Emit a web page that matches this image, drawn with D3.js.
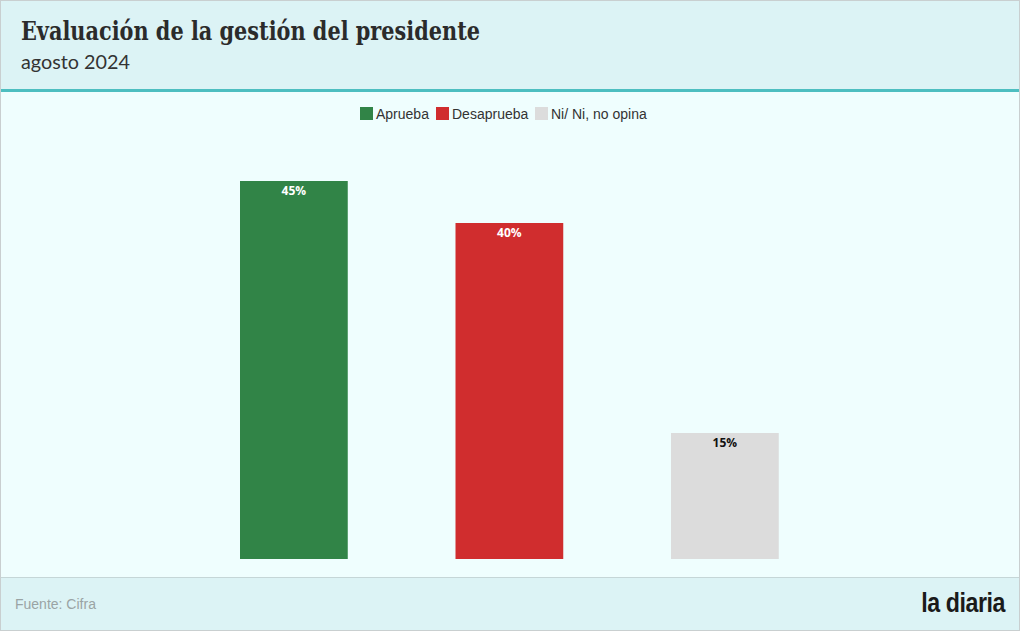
<!DOCTYPE html>
<html><head><meta charset="utf-8">
<script src="https://cdn.jsdelivr.net/npm/d3@7"></script>
<style>
html,body{margin:0;padding:0;background:#fff;}
svg{display:block;}
</style></head>
<body>
<script>
const categories = ["Aprueba", "Desaprueba", "Ni/ Ni, no opina"];
const values = [45, 40, 15];
const colors = ["#318447", "#d02d2e", "#dcdcdc"];
const labelColors = ["#ffffff", "#ffffff", "#111111"];
const title = "Evaluación de la gestión del presidente";
const subtitle = "agosto 2024";
const source = "Fuente: Cifra";

const W = 1020, H = 631;
const svg = d3.select("body").append("svg").attr("width", W).attr("height", H);

// backgrounds
svg.append("rect").attr("x",0).attr("y",0).attr("width",W).attr("height",H).attr("fill","#effefe");
svg.append("rect").attr("x",0).attr("y",0).attr("width",W).attr("height",89).attr("fill","#dcf3f5");
svg.append("rect").attr("x",0).attr("y",89).attr("width",W).attr("height",3).attr("fill","#4dbec0");
svg.append("rect").attr("x",0).attr("y",577).attr("width",W).attr("height",H-577).attr("fill","#dcf3f5");
svg.append("line").attr("x1",0).attr("x2",W).attr("y1",577.5).attr("y2",577.5).attr("stroke","#c5d6d7");
svg.append("rect").attr("x",0.5).attr("y",0.5).attr("width",W-1).attr("height",H-1).attr("fill","none").attr("stroke","#c9cfd0");

// title
svg.append("text").attr("x",21).attr("y",40).text(title)
  .attr("font-family","'DejaVu Serif', serif").attr("font-weight","bold").attr("font-size",26).attr("fill","#2b2b2b")
  .attr("textLength", 459).attr("lengthAdjust","spacingAndGlyphs");

svg.append("text").attr("x",21).attr("y",69).text(subtitle)
  .attr("font-family","Lato, 'Open Sans', sans-serif").attr("font-size",20).attr("fill","#333")
  .attr("textLength", 109).attr("lengthAdjust","spacingAndGlyphs");

// legend
const legend = svg.append("g");
const legX = [360, 436, 535];
categories.forEach((c,i)=>{
  legend.append("rect").attr("x",legX[i]).attr("y",107).attr("width",13).attr("height",13).attr("fill",colors[i]);
  legend.append("text").attr("x",legX[i]+16).attr("y",119).text(c)
    .attr("font-family","'Liberation Sans', Arial, sans-serif").attr("font-size",14).attr("fill","#333");
});

// scales
const x = d3.scaleBand().domain(categories).range([132.25, 886.5]).paddingInner(0.5).paddingOuter(0.5);
const y = d3.scaleLinear().domain([0, 50]).range([559, 139]);

svg.selectAll("rect.bar").data(values).enter().append("rect").attr("class","bar")
  .attr("x",(d,i)=>x(categories[i])).attr("width",x.bandwidth())
  .attr("y",d=>y(d)).attr("height",d=>y(0)-y(d)).attr("fill",(d,i)=>colors[i]);

svg.selectAll("text.val").data(values).enter().append("text").attr("class","val")
  .attr("x",(d,i)=>x(categories[i])+x.bandwidth()/2).attr("y",d=>y(d)+14)
  .attr("text-anchor","middle").text(d=>d+"%")
  .attr("font-family","'Open Sans', sans-serif").attr("font-weight","bold").attr("font-size",12)
  .attr("fill",(d,i)=>labelColors[i]);

// footer
svg.append("text").attr("x",15).attr("y",609).text(source)
  .attr("font-family","'Liberation Sans', Arial, sans-serif").attr("font-size",14).attr("fill","#9aa3a4");
svg.append("g").attr("transform","translate(1005,612) scale(0.86,1)")
  .append("text").attr("x",0).attr("y",0).attr("text-anchor","end").text("la diaria")
  .attr("font-family","'Liberation Sans Narrow', 'Liberation Sans', sans-serif").attr("font-weight","bold")
  .attr("font-size",27).attr("letter-spacing",-0.5).attr("fill","#1a1a1a");
</script>
</body></html>
